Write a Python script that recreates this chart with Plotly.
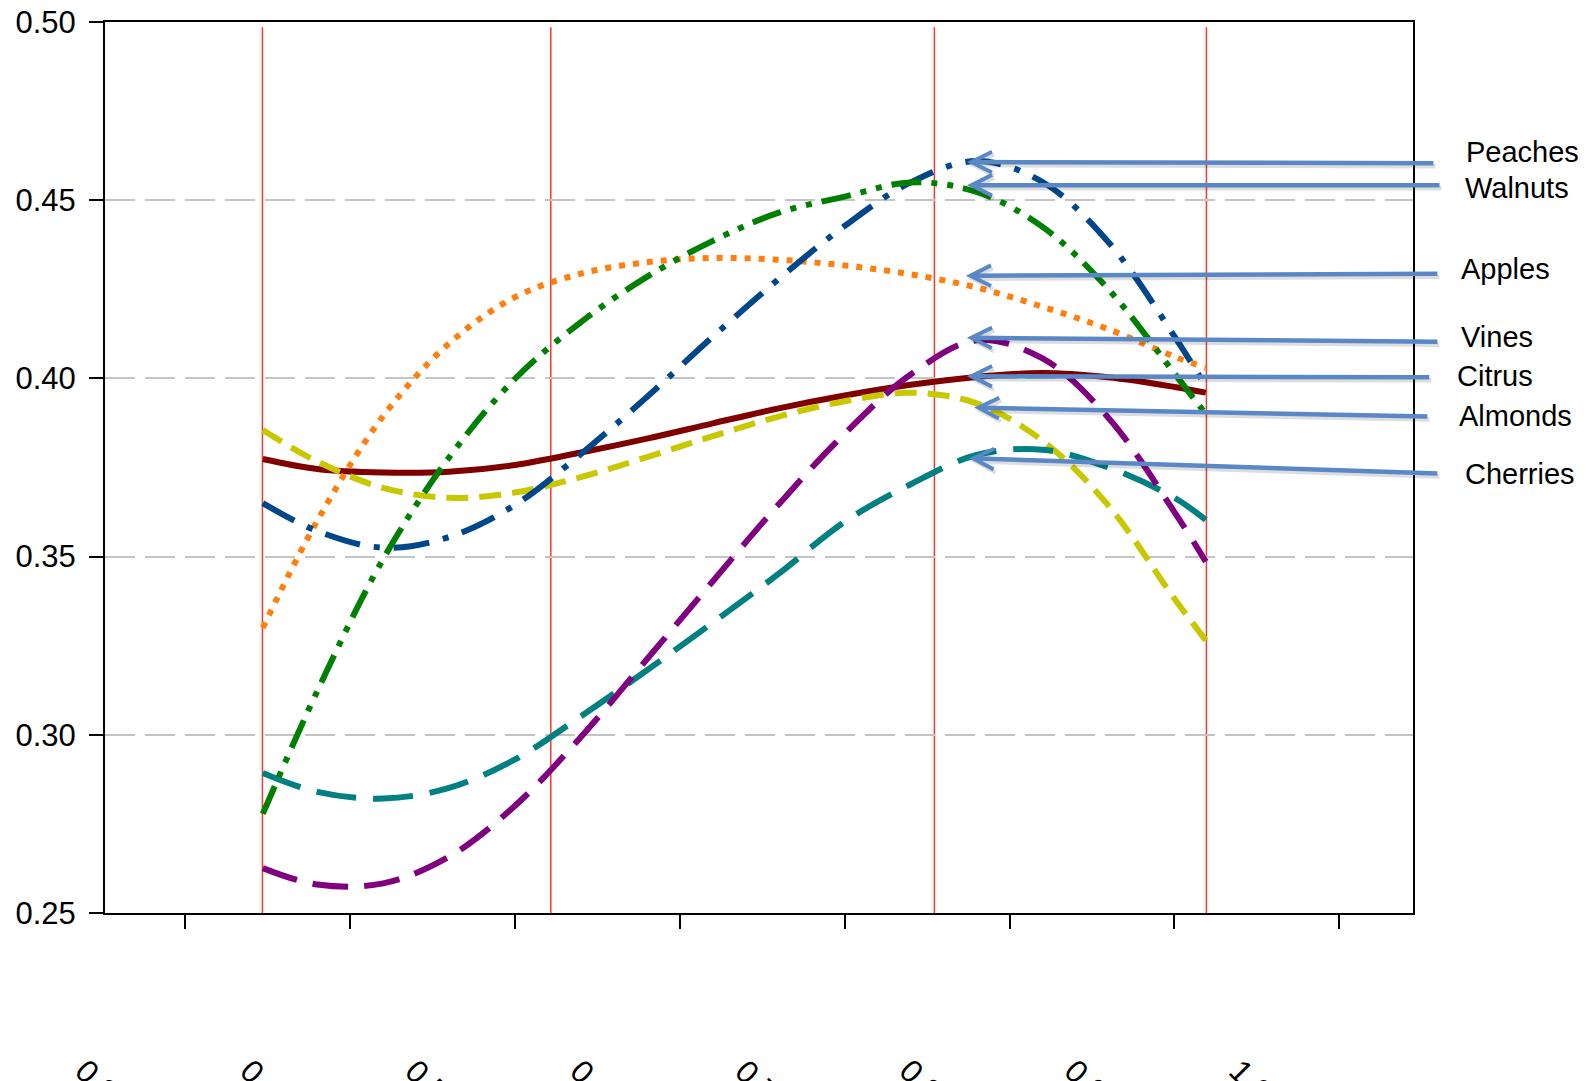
import numpy as np
import plotly.graph_objects as go

# ---------------- data ----------------
x_vals = [0.347, 0.38, 0.42, 0.46, 0.50, 0.54, 0.58, 0.62, 0.66, 0.70,
          0.74, 0.78, 0.82, 0.86, 0.90, 0.919]

citrus   = [0.3774, 0.3746, 0.3736, 0.3738, 0.3757, 0.3792, 0.3831, 0.3874,
            0.3916, 0.3952, 0.3982, 0.4004, 0.4015, 0.4003, 0.3976, 0.3960]
almonds  = [0.3855, 0.3767, 0.3693, 0.3665, 0.3680, 0.3723, 0.3779, 0.3838,
            0.3893, 0.3936, 0.3960, 0.3930, 0.3825, 0.3643, 0.3382, 0.3265]
cherries = [0.2893, 0.2840, 0.2821, 0.2851, 0.2931, 0.3052, 0.3181, 0.3315,
            0.3452, 0.3598, 0.3703, 0.3785, 0.3800, 0.3750, 0.3665, 0.3603]
vines    = [0.2626, 0.2580, 0.2583, 0.2658, 0.2801, 0.2994, 0.3212, 0.3431,
            0.3647, 0.3845, 0.4011, 0.4107, 0.4056, 0.3889, 0.3625, 0.3486]
apples   = [0.3300, 0.3600, 0.3894, 0.4098, 0.4228, 0.4294, 0.4326, 0.4338,
            0.4333, 0.4317, 0.4292, 0.4255, 0.4201, 0.4138, 0.4061, 0.4030]
peaches  = [0.3650, 0.3572, 0.3525, 0.3555, 0.3645, 0.3788, 0.3948, 0.4117,
            0.4279, 0.4428, 0.4550, 0.4610, 0.4551, 0.4382, 0.4118, 0.3978]
walnuts  = [0.2778, 0.3122, 0.3493, 0.3778, 0.3999, 0.4158, 0.4285, 0.4386,
            0.4465, 0.4510, 0.4550, 0.4523, 0.4425, 0.4250, 0.4014, 0.3900]

red_lines = [0.3468, 0.5217, 0.7544, 0.9194]

x_tick_vals = [0.3, 0.4, 0.5, 0.6, 0.7, 0.8, 0.9, 1.0]
x_tick_text = ["0.3", "0.4", "0.5", "0.6", "0.7", "0.8", "0.9", "1.0"]
y_tick_vals = [0.25, 0.30, 0.35, 0.40, 0.45, 0.50]

label_names = ["Peaches", "Walnuts", "Apples", "Vines", "Citrus", "Almonds", "Cherries"]

# ---------------- styling / layout constants ----------------
X_MIN, X_MAX = 0.2513, 1.0447
Y_MIN, Y_MAX = 0.25, 0.50
FONT = "Liberation Sans, Arial, Helvetica, sans-serif"

series = [
    ("Citrus",   citrus,   "#800000", 6, "solid"),
    ("Almonds",  almonds,  "#C8C800", 6, "22px,11px"),
    ("Cherries", cherries, "#008080", 6, "40px,17px"),
    ("Vines",    vines,    "#800080", 6, "36px,16px"),
    ("Apples",   apples,   "#FF7F0E", 6, "6px,8px"),
    ("Peaches",  peaches,  "#00468B", 6, "36px,14px,6px,14px"),
    ("Walnuts",  walnuts,  "#008000", 6, "30px,10px,6px,10px,6px,10px"),
]

fig = go.Figure()
for name, vals, color, width, dash in series:
    fig.add_trace(go.Scatter(
        x=x_vals, y=vals, mode="lines", name=name,
        line=dict(color=color, width=width, dash=dash, shape="spline", smoothing=1.0),
        showlegend=False, hoverinfo="skip"))

# red vertical lines
for xv in red_lines:
    fig.add_shape(type="line", xref="x", yref="y", x0=xv, x1=xv, y0=0.25, y1=0.4985,
                  line=dict(color="#F03A30", width=1.5), layer="below")


def to_paper(v):
    return (v - X_MIN) / (X_MAX - X_MIN)


# arrow annotations (label pointers)
head_x = [0.7741, 0.7741, 0.7735, 0.7741, 0.7741, 0.7784, 0.7753]
head_y = [0.4607, 0.4542, 0.4288, 0.4114, 0.4006, 0.3918, 0.3776]
tail_x = [1.0580, 1.0617, 1.0604, 1.0604, 1.0555, 1.0543, 1.0604]
tail_y = [0.4604, 0.4542, 0.4294, 0.4103, 0.4003, 0.3893, 0.3733]
text_x = [1.0758, 1.0752, 1.0727, 1.0727, 1.0703, 1.0715, 1.0752]
text_y = [0.4636, 0.4535, 0.4308, 0.4117, 0.4006, 0.3895, 0.3733]

annotations = []
# soft shadows under the arrows
for i in range(len(label_names)):
    annotations.append(dict(
        x=head_x[i], y=head_y[i], xref="x", yref="y",
        ax=tail_x[i], ay=tail_y[i], axref="x", ayref="y",
        text="", showarrow=True, arrowhead=5, arrowsize=0.9, arrowwidth=4.5,
        arrowcolor="rgba(0,0,0,0.13)", standoff=0, startstandoff=0,
        xshift=2, yshift=-3))
for i, nm in enumerate(label_names):
    annotations.append(dict(
        x=head_x[i], y=head_y[i], xref="x", yref="y",
        ax=tail_x[i], ay=tail_y[i], axref="x", ayref="y",
        text="", showarrow=True, arrowhead=5, arrowsize=0.9, arrowwidth=4.5,
        arrowcolor="#5A88C6", standoff=0, startstandoff=0))
    annotations.append(dict(
        x=to_paper(text_x[i]), y=text_y[i], xref="paper", yref="y",
        text=nm, showarrow=False, xanchor="left", yanchor="middle",
        font=dict(family=FONT, size=29, color="black")))

# rotated x labels at the bottom (clipped by the page edge as in the reference)
for tv, tt in zip(x_tick_vals, x_tick_text):
    annotations.append(dict(
        x=to_paper(tv - 0.0535), y=-0.1880, xref="paper", yref="paper",
        text=tt, showarrow=False, textangle=45, xanchor="center", yanchor="middle",
        font=dict(family=FONT, size=32, color="black")))

fig.update_layout(
    width=1591, height=1081, autosize=False,
    margin=dict(l=105, r=178, t=22, b=168, pad=0),
    paper_bgcolor="white", plot_bgcolor="white",
    annotations=annotations,
    xaxis=dict(range=[X_MIN, X_MAX], showgrid=False, zeroline=False,
               showline=True, linecolor="black", linewidth=2, mirror=True,
               ticks="outside", ticklen=14, tickwidth=2, tickcolor="black",
               tickvals=x_tick_vals, showticklabels=False, automargin=False),
    yaxis=dict(range=[Y_MIN, Y_MAX], showgrid=True, gridcolor="#C4C4C4", gridwidth=2,
               griddash="30px,10px", zeroline=False,
               showline=True, linecolor="black", linewidth=2, mirror=True,
               ticks="outside", ticklen=14, tickwidth=2, tickcolor="black",
               tickvals=y_tick_vals, tickformat=".2f",
               tickfont=dict(family=FONT, size=31, color="black"),
               ticklabelstandoff=7, automargin=False),
)

fig.write_html("out.html", config={"displayModeBar": False},
               post_script="document.body.style.margin='0';")
